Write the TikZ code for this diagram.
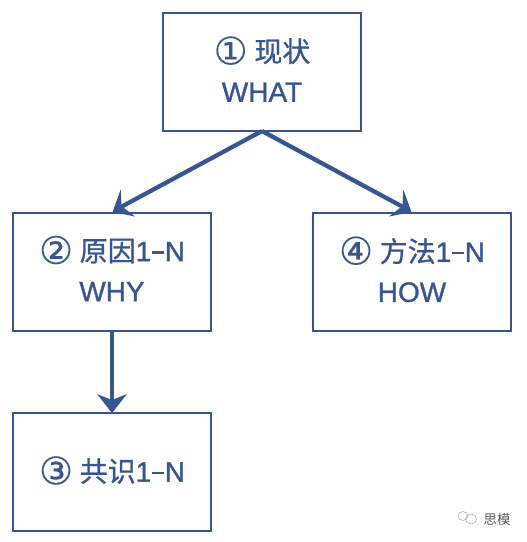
\documentclass[tikz,border=0pt]{standalone}
\usepackage{fontspec}
\setmainfont[FakeBold=1.1]{Liberation Sans}
\newfontfamily\cjkfont[FakeBold=0.9]{Noto Sans CJK SC}
\newfontfamily\symfont[FakeBold=0.2]{DejaVu Sans}
\newfontfamily\wmfont{Noto Sans CJK SC}
\definecolor{bl}{RGB}{55,85,145}
\newcommand{\circled}[1]{\raisebox{-2pt}[0pt][0pt]{\symfont\fontsize{28.5pt}{30pt}\selectfont #1}\hspace{5pt}}
\newcommand{\cjkpart}[1]{{\cjkfont\fontsize{21pt}{30pt}\selectfont #1}}
\newcommand{\dashmark}{\kern0.3pt\raisebox{5.6pt}{\rule{9.5pt}{1.9pt}}\kern0.3pt}
\tikzset{
 px/.style={x=0.75pt,y=-0.75pt},
 box/.style={draw=bl,line width=1.5pt,outer sep=0pt,minimum width=149pt,minimum height=88.5pt,inner sep=0pt,align=center,text=bl,text depth=3pt,font=\fontsize{21pt}{30pt}\selectfont},
 conn/.style={draw=bl,line width=3.2pt},
 tip/.style={fill=bl,draw=none},
 logo/.style={draw=black!35,line width=0.4pt}
}
\begin{document}
\begin{tikzpicture}[px]
\useasboundingbox (0,0) rectangle (526,542);
\node[box] (a) at (262,72) {\circled{①}\cjkpart{现状}\\WHAT};
\node[box] (b) at (112,272) {\circled{②}\cjkpart{原因}1\dashmark N\\WHY};
\node[box] (c) at (412,272) {\circled{④}\cjkpart{方法}1\dashmark N\\HOW};
\node[box] (d) at (112,472) {\circled{③}\cjkpart{共识}1\dashmark N};
\coordinate (ab) at (112.5,212);
\coordinate (ac) at (411.5,212);
\draw[conn] (a.south) -- (120,207.5);
\draw[conn] (a.south) -- (404,207.5);
\draw[conn] (b.south) -- (112,402);
\fill[tip] (ab) -- (120.7,189.5) -- (121.5,206) -- (135,216.5) -- cycle;
\fill[tip] (ac) -- (403.3,189.5) -- (402.5,206) -- (389,216.5) -- cycle;
\fill[tip] (d.north) -- (97,394) -- (112,400) -- (127,394) -- cycle;
\draw[logo] (463,516) ellipse (5 and 4.5);
\draw[logo] (471,519) ellipse (5.5 and 5);
\node[text=black!65,font=\wmfont\fontsize{10pt}{12pt}\selectfont,inner sep=0pt] (w) at (497,519) {思模};
\end{tikzpicture}
\end{document}
